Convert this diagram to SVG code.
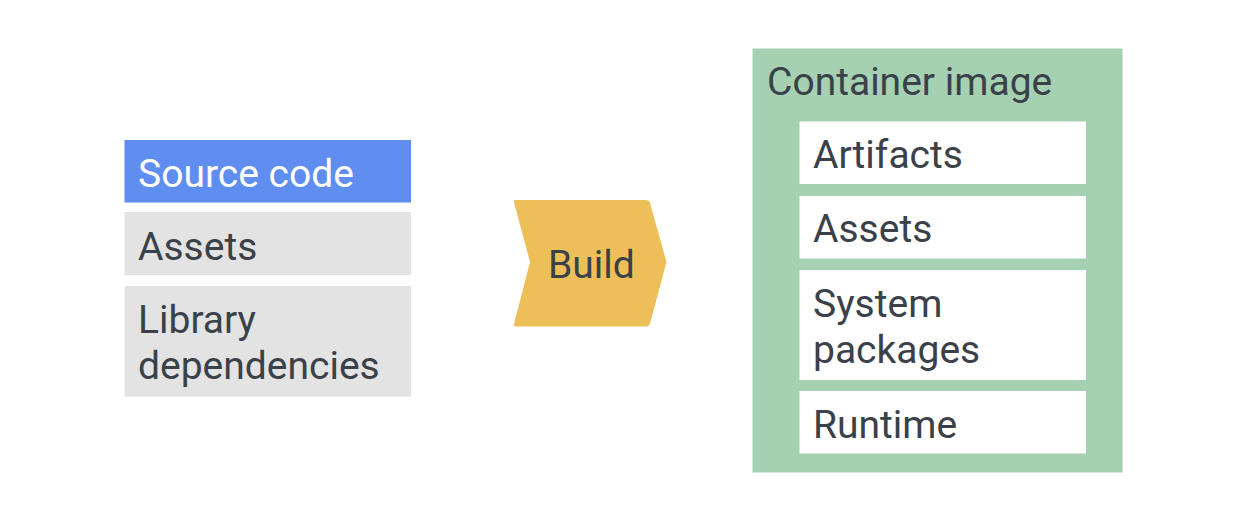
<svg xmlns="http://www.w3.org/2000/svg" width="1238" height="526" viewBox="0 0 1238 526">
<style>
text{font-family:Roboto,"Liberation Sans",sans-serif;font-size:39px;fill:#3a4149}
.w{fill:#ffffff}
.g{fill:#e3e3e3}
.in{fill:#ffffff}
</style>
<rect width="1238" height="526" fill="#ffffff"/>
<g id="source-code">
<rect x="124.5" y="140" width="286.5" height="62.5" fill="#5f8df0"/>
<text x="138" y="186.5" class="w">Source code</text>
</g>
<g id="assets-src">
<rect class="g" x="124.5" y="212" width="286.5" height="63"/>
<text x="138" y="259.5">Assets</text>
</g>
<g id="library-deps">
<rect class="g" x="124.5" y="286" width="286.5" height="110.5"/>
<text x="138" y="333">Library</text>
<text x="138" y="378.5">dependencies</text>
</g>
<g id="build">
<path d="M516,200 L646,200 Q649,200 650,203 L666.5,262 L650,323.5 Q649,326.5 646,326.5 L516,326.5 Q513,326.5 514,324 L530,262 L514,202.5 Q513,200 516,200 Z" fill="#edbf59"/>
<text x="548" y="277.5">Build</text>
</g>
<g id="container-image">
<rect x="752.5" y="48.5" width="370" height="424" fill="#a5d1b2"/>
<text x="767" y="94.5">Container image</text>
<g id="artifacts">
<rect class="in" x="799.5" y="121.5" width="286.5" height="62.5"/>
<text x="813" y="168">Artifacts</text>
</g>
<g id="assets-img">
<rect class="in" x="799.5" y="196" width="286.5" height="62.5"/>
<text x="813" y="242">Assets</text>
</g>
<g id="system-packages">
<rect class="in" x="799.5" y="270" width="286.5" height="110"/>
<text x="813" y="316.5">System</text>
<text x="813" y="363">packages</text>
</g>
<g id="runtime">
<rect class="in" x="799.5" y="391" width="286.5" height="62.5"/>
<text x="813" y="437.5">Runtime</text>
</g>
</g>
<g id="connectors"></g>
</svg>
